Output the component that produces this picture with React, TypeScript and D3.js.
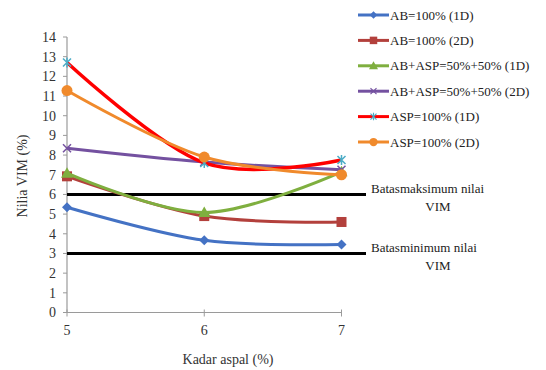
import React from "react";
import * as d3 from "d3";

const xValues = [5, 6, 7];
const yTicks = [0, 1, 2, 3, 4, 5, 6, 7, 8, 9, 10, 11, 12, 13, 14];

const seriesNames = [
  "AB=100% (1D)",
  "AB=100% (2D)",
  "AB+ASP=50%+50% (1D)",
  "AB+ASP=50%+50% (2D)",
  "ASP=100% (1D)",
  "ASP=100% (2D)",
];
const seriesColors = ["#4472c4", "#b3403c", "#7faf3f", "#7451a0", "#ff0000", "#f08a2c"];
const markerColors = ["#4472c4", "#b3403c", "#7faf3f", "#7451a0", "#4bacc6", "#f08a2c"];
const markerShapes = ["diamond", "square", "triangle", "x", "star", "circle"];

const ab1D = [5.35, 3.67, 3.46];
const ab2D = [6.92, 4.9, 4.6];
const mix1D = [7.08, 5.08, 7.15];
const mix2D = [8.35, 7.65, 7.25];
const asp1D = [12.7, 7.6, 7.75];
const asp2D = [11.28, 7.9, 7.0];
const seriesValues = [ab1D, ab2D, mix1D, mix2D, asp1D, asp2D];

const limitValues = [6, 3];
const limitLabels = [
  ["Batasmaksimum nilai", "VIM"],
  ["Batasminimum nilai", "VIM"],
];

const W = 546;
const H = 370;
const plotLeft = 67;
const plotTop = 37;
const plotBottom = 312.5;

const x = d3.scaleLinear().domain([5, 7]).range([plotLeft, 341.5]);
const y = d3.scaleLinear().domain([0, 14]).range([plotBottom, plotTop]);
const limitEnd = x.invert(366);

const line = d3
  .line<[number, number]>()
  .x((d) => x(d[0]))
  .y((d) => y(d[1]))
  .curve(d3.curveCatmullRom.alpha(0));

function Marker({ shape, cx, cy, color }: { shape: string; cx: number; cy: number; color: string }) {
  if (shape === "diamond")
    return <path d={`M${cx},${cy - 5}L${cx + 5},${cy}L${cx},${cy + 5}L${cx - 5},${cy}Z`} fill={color} />;
  if (shape === "square")
    return <rect x={cx - 5} y={cy - 5} width={10} height={10} fill={color} />;
  if (shape === "triangle")
    return <path d={`M${cx},${cy - 6}L${cx + 6},${cy + 4.5}L${cx - 6},${cy + 4.5}Z`} fill={color} />;
  if (shape === "x")
    return (
      <path
        d={`M${cx - 4},${cy - 4}L${cx + 4},${cy + 4}M${cx - 4},${cy + 4}L${cx + 4},${cy - 4}`}
        stroke={color}
        strokeWidth={1.5}
      />
    );
  if (shape === "star")
    return (
      <path
        d={`M${cx - 4},${cy - 4}L${cx + 4},${cy + 4}M${cx - 4},${cy + 4}L${cx + 4},${cy - 4}M${cx},${cy - 5}L${cx},${cy + 5}`}
        stroke={color}
        strokeWidth={1.5}
      />
    );
  return <circle cx={cx} cy={cy} r={5.5} fill={color} />;
}

const FONT = "'Liberation Serif', 'DejaVu Serif', 'Times New Roman', serif";

export default function App() {
  return (
    <svg
      width={W}
      height={H}
      style={{ position: "absolute", left: 0, top: 0, background: "#fff", fontFamily: FONT }}
    >
      {/* y axis */}
      <line x1={plotLeft} x2={plotLeft} y1={plotTop} y2={plotBottom} stroke="#9a9a9a" strokeWidth={1.2} />
      {yTicks.map((t) => (
        <g key={t}>
          <line x1={plotLeft - 4} x2={plotLeft} y1={y(t)} y2={y(t)} stroke="#9a9a9a" />
          <text x={56} y={y(t)} dy="0.35em" textAnchor="end" fontSize={14} fill="#333" style={{ fontFamily: FONT }}>
            {t}
          </text>
        </g>
      ))}
      {/* x axis */}
      <line x1={plotLeft} x2={x(7)} y1={plotBottom} y2={plotBottom} stroke="#9a9a9a" strokeWidth={1.2} />
      {xValues.map((v) => (
        <g key={v}>
          <line x1={x(v)} x2={x(v)} y1={plotBottom - 3} y2={plotBottom + 4} stroke="#9a9a9a" />
          <text x={x(v)} y={335} textAnchor="middle" fontSize={14} fill="#333" style={{ fontFamily: FONT }}>
            {v}
          </text>
        </g>
      ))}
      <text x={228} y={364} textAnchor="middle" fontSize={14} fill="#333" style={{ fontFamily: FONT }}>
        Kadar aspal (%)
      </text>
      <text
        transform="translate(27,176) rotate(-90)"
        textAnchor="middle"
        fontSize={14}
        fill="#333"
        style={{ fontFamily: FONT }}
      >
        Nilia VIM (%)
      </text>

      {/* limit lines */}
      {limitValues.map((v, i) => (
        <g key={v}>
          <line x1={x(5)} x2={x(limitEnd)} y1={y(v)} y2={y(v)} stroke="#000" strokeWidth={3} />
          <text x={371} y={y(v) - 1} fontSize={13} fill="#222" style={{ fontFamily: FONT }}>
            {limitLabels[i][0]}
          </text>
          <text x={438} y={y(v) + 17} textAnchor="middle" fontSize={13} fill="#222" style={{ fontFamily: FONT }}>
            {limitLabels[i][1]}
          </text>
        </g>
      ))}

      {/* series */}
      {seriesValues.map((vals, i) => {
        const pts = vals.map((v, j) => [xValues[j], v] as [number, number]);
        return (
          <g key={i}>
            <path d={line(pts) || ""} fill="none" stroke={seriesColors[i]} strokeWidth={i === 4 ? 3.5 : 3} />
            {pts.map((p, j) => (
              <Marker key={j} shape={markerShapes[i]} cx={x(p[0])} cy={y(p[1])} color={markerColors[i]} />
            ))}
          </g>
        );
      })}

      {/* legend */}
      {seriesNames.map((name, i) => {
        const ly = 15 + i * 25.4;
        return (
          <g key={name}>
            <line x1={358} x2={389} y1={ly} y2={ly} stroke={seriesColors[i]} strokeWidth={3} />
            <g transform={`translate(373.5,${ly}) scale(0.75) translate(-373.5,${-ly})`}>
              <Marker shape={markerShapes[i]} cx={373.5} cy={ly} color={markerColors[i]} />
            </g>
            <text x={390} y={ly} dy="0.35em" fontSize={13} fill="#222" style={{ fontFamily: FONT }}>
              {name}
            </text>
          </g>
        );
      })}
    </svg>
  );
}
